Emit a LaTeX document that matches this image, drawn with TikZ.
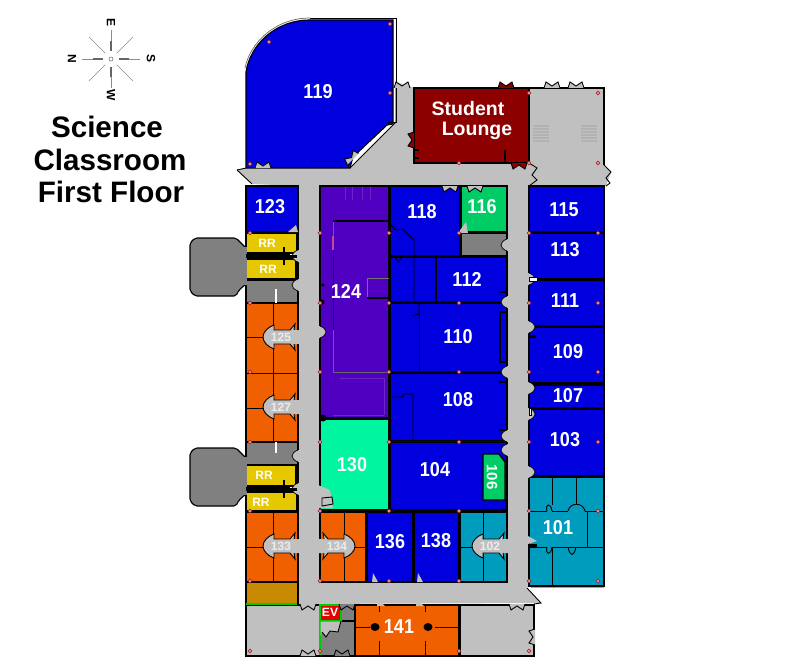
\documentclass[tikz,border=0pt]{standalone}
\usepackage{fontspec}
\setmainfont{Liberation Sans}
\definecolor{HallGray}{RGB}{192,192,192}
\definecolor{DarkGray}{RGB}{128,128,128}
\definecolor{RoomBlue}{RGB}{0,0,222}
\definecolor{RoomOrange}{RGB}{240,96,0}
\definecolor{RoomTeal}{RGB}{0,156,190}
\definecolor{RoomYellow}{RGB}{230,200,0}
\definecolor{RoomGreen}{RGB}{0,204,102}
\definecolor{RoomMint}{RGB}{0,245,160}
\definecolor{RoomBrown}{RGB}{200,138,0}
\definecolor{RoomPurple}{RGB}{80,0,192}
\definecolor{LoungeRed}{RGB}{140,0,0}
\definecolor{ColRed}{RGB}{170,30,40}
\tikzset{
  room/.style={draw=black,line width=1.1pt},
  thinwall/.style={draw=black,line width=.9pt},
  roomnum/.style={text=white,font=\bfseries\fontsize{18}{18}\selectfont,inner sep=0pt,yscale=1.12,transform shape},
  sidenum/.style={text=white,font=\bfseries\fontsize{15}{15}\selectfont,inner sep=0pt,rotate=-90},
  loungetext/.style={text=white,font=\bfseries\fontsize{19.5}{20}\selectfont,inner sep=0pt},
  smallnum/.style={text=white,font=\bfseries\fontsize{12}{12}\selectfont,inner sep=0pt},
  titletext/.style={text=black,font=\bfseries\fontsize{29.6}{30}\selectfont,inner sep=0pt},
  compasstext/.style={text=black,font=\bfseries\fontsize{12}{12}\selectfont,inner sep=0pt,rotate=-90},
  column/.style={draw=ColRed,fill=white,line width=.8pt}
}
% door notch, origin on the wall, points to -y before rotation
\newcommand{\notch}[4]{\draw[thinwall,fill=#4,rotate around={#3:(#1,#2)}] (#1-8,#2) -- (#1-6,#2-6) -- (#1,#2-2) -- (#1+6,#2-6) -- (#1+8,#2);}
% small bump of the hall into a room, #3 is +1 or -1
\newcommand{\hallbump}[3]{
  \fill[HallGray] (#1-#3*1.5,#2-6) -- (#1,#2-6) .. controls (#1+#3*8,#2-3) and (#1+#3*8,#2+3) .. (#1,#2+6) -- (#1-#3*1.5,#2+6) -- cycle;
  \draw[thinwall,line width=.7pt] (#1,#2-6) .. controls (#1+#3*8,#2-3) and (#1+#3*8,#2+3) .. (#1,#2+6);}
% lobby off the hall, origin on the hall wall, opens to the hall
\newcommand{\lobby}[3]{\begin{scope}[shift={(#1,#2)},xscale=#3]
  \fill[HallGray] (1,-7) -- (-4,-7) -- (-3,-13) -- (-8,-7) -- (-24,-7) -- (-24,-12) .. controls (-30,-10) and (-35,-5) .. (-35,0) .. controls (-35,5) and (-30,10) .. (-24,12) -- (-24,7) -- (-8,7) -- (-3,13) -- (-4,7) -- (1,7) -- cycle;
  \draw[thinwall] (-4,-7) -- (-3,-13) -- (-8,-7) -- (-24,-7) -- (-24,-12) .. controls (-30,-10) and (-35,-5) .. (-35,0) .. controls (-35,5) and (-30,10) .. (-24,12) -- (-24,7) -- (-8,7) -- (-3,13) -- (-4,7);
\end{scope}}
\begin{document}
\begin{tikzpicture}[x=1pt,y=-1pt]
  \useasboundingbox (0,0) rectangle (801,669);
  \fill[white] (0,0) rectangle (801,669);

  % title and compass
  \node[titletext] (tscience) at (107,127) {Science};
  \node[titletext] (tclass) at (110,160) {Classroom};
  \node[titletext] (tfloor) at (111,192) {First Floor};
  \foreach \a in {0,90,180,270} {
    \draw[black!45,line width=.7pt] (111,59) ++(\a:8) -- ++(\a:21);
    \draw[black!60,line width=1.4pt] (111,59) ++(\a:8) -- ++(\a:10);
  }
  \foreach \a in {45,135,225,315}
    \draw[black!45,line width=.6pt] (111,59) ++(\a:8) -- ++(\a:23);
  \draw[black!60,fill=white,line width=.5pt] (111,59) circle (2);
  \node[compasstext] (cn) at (72,59) {N};
  \node[compasstext] (ce) at (111,23) {E};
  \node[compasstext] (cs) at (151,59) {S};
  \node[compasstext] (cw) at (111,95) {W};

  % halls
  \fill[HallGray] (237,170) -- (246,168) -- (350,168) -- (396,122) -- (396,82) -- (414,88) -- (604,88) -- (604,166) -- (611,172) -- (606,186) -- (529,186) -- (529,584) -- (527,588) -- (541,603) -- (298,604) -- (298,186) -- (252,184) -- cycle;
  \draw[room] (414,88) -- (604,88) -- (604,165);
  \draw[room] (529,186) -- (604,186);
  \draw[room] (246,186) -- (298,186) -- (298,604);
  \draw[room] (320,186) -- (507,186) -- (507,582) -- (320,582) -- cycle;
  \draw[thinwall] (396,82) -- (396,122) -- (350,168);
  \draw[thinwall] (237,170) -- (246,168);
  \draw[thinwall] (237,170) -- (252,184);
  \draw[thinwall] (604,165) -- (611,172) -- (606,178) -- (610,183) -- (606,186);
  \draw[thinwall] (529,163) -- (537,168) -- (532,175) -- (537,180) -- (529,186);
  \draw[thinwall] (527,588) -- (541,603) -- (534,604);

  % room 119
  \draw[room,fill=RoomBlue] (246,168) -- (246,72) .. controls (250,45) and (275,20) .. (310,20) -- (393,20) -- (393,124) -- (387,125) -- (353,157) -- (350,168) -- cycle;
  \draw[black!60,line width=.7pt] (245,68) .. controls (250,43) and (275,18) .. (310,18);
  \draw[thinwall] (310,18) -- (396,18) -- (396,122) -- (387,122);
  \draw[thinwall] (311,161) -- (348,161) -- (348,167);
  \notch{263}{168}{0}{HallGray}
  \notch{353}{159}{45}{HallGray}
  \notch{402}{88}{0}{HallGray}

  % student lounge
  \draw[room,fill=LoungeRed] (414,88) -- (529,88) -- (529,163) -- (414,163) -- cycle;
  \draw[room] (505,150) -- (505,163);
  \notch{506}{88}{0}{LoungeRed}
  \notch{552}{88}{0}{HallGray}
  \notch{576}{88}{0}{HallGray}
  \notch{414}{140}{90}{LoungeRed}
  \notch{519}{163}{180}{LoungeRed}
  \foreach \y in {150,158} \draw[black,line width=1.5pt] (414,\y) -- (419,\y);

  % stairs
  \foreach \x in {533,581} \foreach \y in {125,128,131,134,137,140}
    \draw[gray!60,line width=.8pt,fill=white] (\x,\y) rectangle (\x+15,\y+1.5);
  \foreach \x/\y in {283/630,490/630} {
    \fill[white!92!black] (\x+3,\y-2) rectangle (\x+15,\y+13);
    \foreach \d in {0,3,6,9,12} \draw[gray!70,line width=.9pt] (\x+\d,\y-2+\d/3) -- (\x+\d,\y+13-\d/6);
  }

  % rooms, x1/y1/x2/y2/colour
  \foreach \xa/\ya/\xb/\yb/\col in {
    246/186/298/232/RoomBlue, 246/303/298/442/RoomOrange,
    246/442/298/465/DarkGray, 246/280/298/303/DarkGray,
    246/233/297/253/RoomYellow, 246/259/296/279/RoomYellow,
    246/465/296/486/RoomYellow, 246/492/297/511/RoomYellow,
    246/512/298/582/RoomOrange, 246/582/298/604/RoomBrown,
    320/186/389/418/RoomPurple, 320/419/389/510/RoomMint,
    390/186/460/256/RoomBlue, 461/186/507/232/RoomGreen, 461/233/507/256/DarkGray,
    390/257/436/302/RoomBlue, 436/257/507/302/RoomBlue,
    390/303/507/372/RoomBlue, 390/373/507/441/RoomBlue, 390/442/507/510/RoomBlue,
    320/512/366/582/RoomOrange, 367/512/413/582/RoomBlue, 414/512/459/582/RoomBlue,
    460/512/507/582/RoomTeal,
    529/186/604/232/RoomBlue, 529/233/604/279/RoomBlue, 529/280/604/326/RoomBlue,
    529/327/604/383/RoomBlue, 529/385/604/408/RoomBlue, 529/409/604/476/RoomBlue,
    529/477/604/586/RoomTeal, 355/605/459/656/RoomOrange, 320/621/355/656/DarkGray,
    341/605/355/621/DarkGray, 246/605/320/656/HallGray, 460/605/534/656/HallGray}
    \draw[room,fill=\col] (\xa,\ya) rectangle (\xb,\yb);

  % rest rooms and grey blobs
  \foreach \yb in {238,448}
    \draw[room,fill=DarkGray,rounded corners=2pt] (246,\yb+10) -- (239,\yb+3) -- (236,\yb) -- (195,\yb) -- (190,\yb+5) -- (190,\yb+53) -- (195,\yb+58) -- (236,\yb+58) -- (239,\yb+52) -- (246,\yb+46);
  \fill[DarkGray] (244,247) rectangle (247,285);
  \fill[DarkGray] (244,457) rectangle (247,495);
  \foreach \y in {256,489} {
    \draw[black,line width=4pt] (246,\y) -- (290,\y);
    \draw[black,line width=1.2pt] (284,\y-9) -- (284,\y+9);
    \hallbump{298}{\y}{-1}
    \draw[black,line width=3pt] (284,\y) -- (297,\y);
  }
  \draw[white,line width=1.1pt] (276,289) -- (276,303);
  \draw[white,line width=1.1pt] (276,442) -- (276,453);
  \foreach \y in {285,456} {\hallbump{298}{\y}{-1}}

  % orange walls
  \foreach \xa/\ya/\xb/\yb in {
    273/303/273/442, 246/337/273/337, 246/373/298/373, 246/408/273/408,
    273/512/273/582, 246/547/273/547, 344/512/344/582, 344/547/366/547,
    483/512/483/582, 460/547/483/547, 483/547/507/547}
    \draw[thinwall] (\xa,\ya) -- (\xb,\yb);
  \lobby{298}{337}{1}
  \lobby{298}{407}{1}
  \lobby{298}{546}{1}
  \lobby{320}{546}{-1}
  \lobby{507}{546}{1}

  % purple and blue partitions
  \draw[black!60,line width=.8pt] (333,222) -- (333,250) (333,330) -- (333,372) -- (389,372);
  \draw[RoomPurple!60!black,line width=.6pt] (333,250) -- (333,330);
  \draw[red!50!RoomPurple!70!white,line width=1.8pt] (333,236) -- (333,250);
  \draw[black,line width=1.1pt] (333,221) -- (389,221);
  \draw[black!55,line width=.8pt] (367,278) -- (389,278) (367,278) -- (367,298) -- (389,298);
  \draw[black,line width=1.4pt] (367,298) -- (389,298);
  \draw[RoomPurple!85!white,line width=.6pt] (340,378) -- (384,378) -- (384,415) (333,415) -- (384,415) (345,187) -- (345,200) (352,187) -- (352,200) (362,187) -- (362,200) (370,187) -- (370,200);
  \draw[thinwall] (390,224) -- (396,230) -- (402,229) -- (414,240) -- (414,302) (414,257) -- (436,257);
  \draw[thinwall] (436,257) -- (436,302);
  \draw[thinwall] (396,258) -- (398,262) -- (402,257);
  \draw[thinwall] (419,303) -- (419,372);
  \draw[thinwall] (419,303) -- (419,314) -- (412,316);
  \draw[thinwall] (392,397) -- (402,397) -- (404,394) -- (413,394) -- (413,441);
  \draw[black!60!RoomBlue,line width=.9pt] (390,441.5) -- (507,441.5);
  \draw[room,line width=1.3pt,fill=RoomBlue] (500,312) rectangle (507,362);
  \foreach \y in {292,382,430} \draw[black,line width=2pt] (499,\y) -- (507,\y);
  \draw[room,line width=1.4pt,fill=RoomGreen] (483,454) -- (499,454) -- (505,462) -- (505,500) -- (483,500) -- cycle;

  % hall side doors
  \foreach \y in {245,302,372,436,450} {\hallbump{507}{\y}{-1}}
  \foreach \y in {279,327,388,414,472} {\hallbump{529}{\y}{1}}
  \draw[black,fill=white,line width=.6pt] (529,277) rectangle (537,281);
  \draw[black,fill=white,line width=.6pt] (529,408) rectangle (531,415);
  \draw[black,line width=3pt] (529,336) -- (536,336);
  \hallbump{320}{332}{1}
  \fill[HallGray] (318,485) -- (330,490) -- (333,508) -- (318,508) -- cycle;
  \draw[thinwall,fill=HallGray] (322,498) -- (332,497) -- (333,504) -- (322,506) -- cycle;
  \fill[black] (323,418) circle (3.5);
  \fill[black] (323,285) circle (1.6);
  \fill[black] (322,302) circle (2.5);
  \notch{450}{186}{180}{HallGray}
  \notch{475}{186}{180}{HallGray}
  \fill[HallGray] (458,233) -- (466,222) -- (468,233) -- cycle;
  \fill[HallGray] (296,225) -- (288,232) -- (298,232) -- cycle;
  \foreach \x in {375,420} \fill[HallGray] (\x-3,582) -- (\x-2,573) -- (\x+3,582) -- cycle;

  % right wing walls
  \draw[thinwall] (552,477) -- (552,505) (576,477) -- (576,505) (529,511) -- (547,511) (552,511) -- (568,511) (585,511) -- (604,511) (587,511) -- (587,547) (529,547) -- (547,547) (552,547) -- (604,547) (552,547) -- (552,586);
  \draw[thinwall] (547,511) .. controls (545,503) and (551,503) .. (552,511);
  \draw[thinwall] (568,511) .. controls (570,502) and (583,502) .. (585,511);
  \draw[thinwall] (547,547) .. controls (545,555) and (551,556) .. (552,547);
  \draw[thinwall] (568,547) .. controls (570,557) and (574,557) .. (576,547);
  \draw[black,line width=3pt] (529,545.5) -- (537,545.5);
  \fill[HallGray] (528,536) -- (537,541) -- (528,544) -- cycle;
  \draw[gray!70,line width=1pt] (531,587) -- (604,587);

  % bottom wing
  \draw[draw=green!80!black,line width=1.1pt] (246,604) -- (297,604) (320,621) -- (320,655);
  \draw[draw=green!80!black,line width=1.4pt,fill=red!90!black] (320,605) rectangle (341,621);
  \notch{308}{604}{180}{HallGray}
  \notch{347}{604}{180}{DarkGray}
  \notch{517}{604}{180}{HallGray}
  \notch{308}{656}{0}{HallGray}
  \notch{342}{656}{0}{DarkGray}
  \notch{535}{637}{90}{HallGray}
  \fill[HallGray] (320.5,621.7) -- (341,621.7) -- (338,632) -- (330,631) -- (326,637) -- (322,632) -- (320.5,636) -- cycle;
  \draw[thinwall] (341,621) -- (338,632) -- (330,631) -- (326,637) -- (322,632);
  % room 141
  \draw[thinwall] (379,605) -- (379,656) (425,605) -- (425,656) (355,627) -- (379,627) (425,627) -- (459,627);
  \fill[RoomOrange] (379,606) -- (386,606) -- (425,606) -- (432,616) -- (435,627) -- (432,640) -- (425,655) -- (379,655) -- (372,640) -- (370,627) -- (372,616) -- cycle;
  \foreach \x in {375,428} \fill[black] (\x,627) ellipse (4.5 and 4);
  \draw[thinwall] (379,641) -- (379,656) (425,641) -- (425,656);
  \draw[thinwall] (379,605) -- (379,612) (425,605) -- (425,612);
  \fill[HallGray] (377,599) -- (385,606) -- (377,606) -- cycle;
  \fill[HallGray] (416,599) -- (424,606) -- (416,606) -- cycle;

  % column marks
  \foreach \x/\y in {250/164,269/42,390/24,390/93,529/93,598/93,529/163,598/163,459/163,
    250/233,320/233,389/233,459/233,529/233,598/233,
    250/303,320/303,389/303,459/303,529/303,598/303,
    250/372,320/372,389/372,459/372,529/372,598/372,
    250/442,320/442,389/442,459/442,529/442,598/442,
    250/511,320/511,389/511,459/511,529/511,598/511,
    250/581,320/581,389/581,459/581,529/581,598/581,
    250/651,320/651,459/651,529/651}
    \draw[column] (\x,\y) circle (1.8);

  % labels
  \foreach \lab/\x/\y in {119/318/92,123/270/207,124/346/291,118/422/212,116/482/207,
    112/467/279,110/458/337,108/458/400,104/435/470,130/352/465,136/390/542,138/436/541,
    115/564/210,113/565/250,111/565/301,109/568/352,107/568/396,103/565/440,101/558/528,141/399/627}
    \node[roomnum] (room\lab) at (\x,\y) {\lab};
  \node[sidenum] (room106) at (492,477) {106};
  \node[loungetext] (student) at (468,109) {Student};
  \node[loungetext] (lounge) at (477,131) {Lounge};
  \foreach \lab/\x/\y in {125/281/337,127/281/407,133/281/546,134/337/546,102/490/546}
    \node[smallnum,text=white!92!black] (room\lab) at (\x,\y) {\lab};
  \foreach \nm/\x/\y in {rra/267/243,rrb/268/269,rrc/264/475,rrd/261/502}
    \node[smallnum] (\nm) at (\x,\y) {RR};
  \node[smallnum] (elev) at (330,612) {EV};
\end{tikzpicture}
\end{document}
